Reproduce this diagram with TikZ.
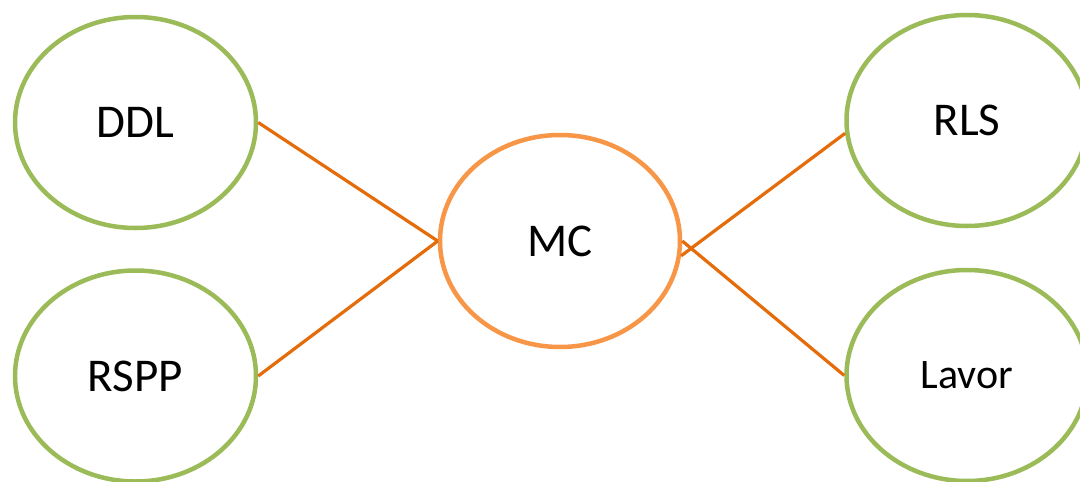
\documentclass[tikz,border=0pt]{standalone}
\usepackage{fontspec}
\setmainfont{Carlito}
\usetikzlibrary{shapes.geometric}
\definecolor{leafgreen}{HTML}{9BBB59}
\definecolor{softorange}{HTML}{F79646}
\definecolor{linkorange}{HTML}{E46C0A}
\tikzset{
  bubble/.style={ellipse, draw=leafgreen, line width=4.5pt, fill=white,
    minimum width=241pt, minimum height=211pt, inner sep=0pt,
    font=\fontsize{47}{51}\selectfont},
  hub/.style={bubble, draw=softorange, minimum width=240pt, minimum height=212pt},
  link/.style={draw=linkorange, line width=3.2pt}
}
\begin{document}
\begin{tikzpicture}[x=1pt, y=-1pt]
  \useasboundingbox (0,0) rectangle (1080,482);
  \clip (0,0) rectangle (1080,482);
  % satellites on the left and right, hub in the middle
  \node[bubble] (ddl)   at (135.5,122.5) {DDL};
  \node[bubble] (rspp)  at (135.5,376)   {RSPP};
  \node[hub]    (mc)    at (560,241)     {MC};
  \node[bubble] (rls)   at (967,120.5)   {RLS};
  \node[bubble, font=\fontsize{42}{46}\selectfont] (lavor) at (967,375.5) {Lavor};
  % connectors
  \draw[link] (ddl.0)    -- (mc.180);
  \draw[link] (rspp.0)   -- (mc.180);
  \draw[link] (mc.-7)    -- (rls.186);
  \draw[link] (mc.0)     -- (lavor.180);
\end{tikzpicture}
\end{document}
